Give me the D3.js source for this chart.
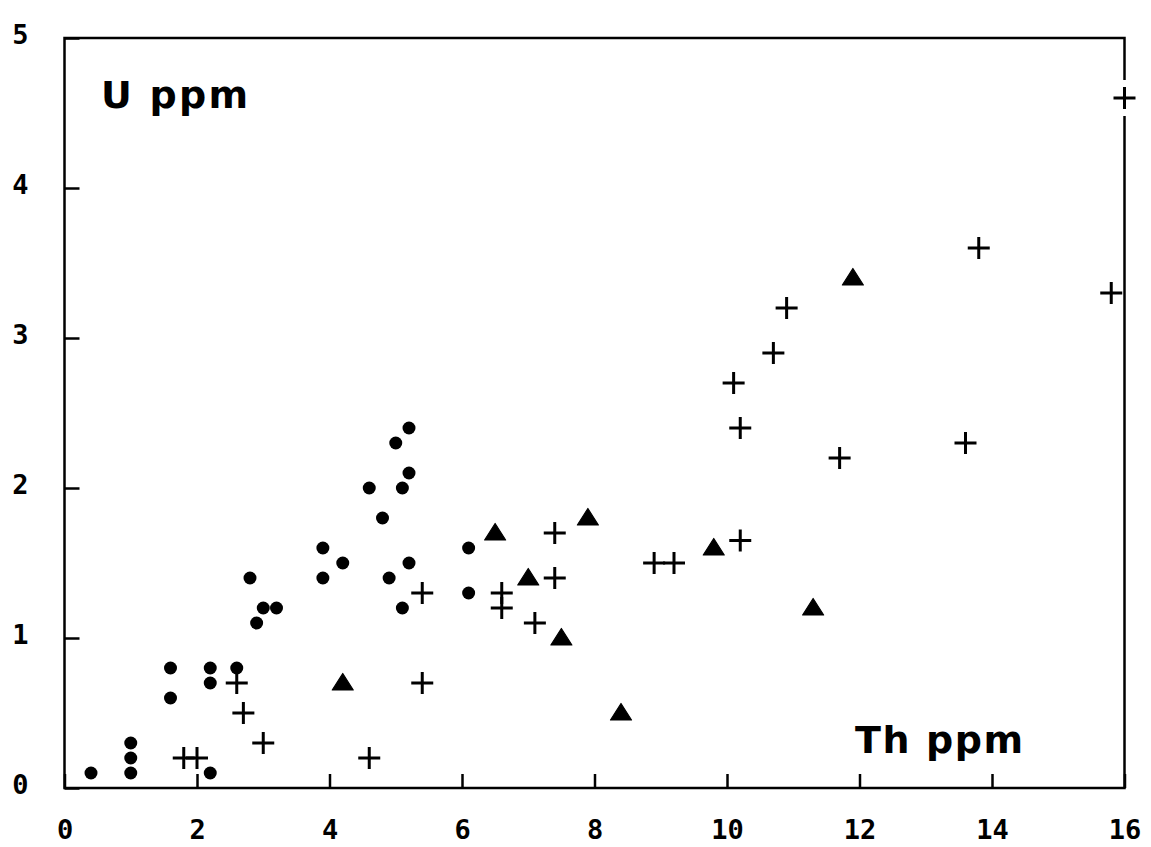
<!DOCTYPE html>
<html>
<head>
<meta charset="utf-8">
<script src="https://cdn.jsdelivr.net/npm/d3@7"></script>
<style>
  html, body { margin: 0; padding: 0; background: #fff; }
  svg { display: block; }
</style>
</head>
<body>
<script>
// Th (ppm) vs U (ppm) for three sample groups
const dotTh = [0.4, 1.0, 1.0, 1.0, 1.6, 1.6, 2.2, 2.2, 2.2, 2.6, 2.8, 2.9, 3.0, 3.2, 3.9, 3.9, 4.2, 4.6, 4.8, 4.9, 5.0, 5.1, 5.1, 5.2, 5.2, 5.2, 6.1, 6.1];
const dotU  = [0.1, 0.3, 0.2, 0.1, 0.8, 0.6, 0.8, 0.7, 0.1, 0.8, 1.4, 1.1, 1.2, 1.2, 1.6, 1.4, 1.5, 2.0, 1.8, 1.4, 2.3, 2.0, 1.2, 2.4, 2.1, 1.5, 1.6, 1.3];

const triTh = [4.2, 6.5, 7.0, 7.5, 7.9, 8.4, 9.8, 11.3, 11.9];
const triU  = [0.7, 1.7, 1.4, 1.0, 1.8, 0.5, 1.6, 1.2, 3.4];

const plusTh = [1.8, 2.0, 2.6, 2.7, 3.0, 4.6, 5.4, 5.4, 6.6, 6.6, 7.1, 7.4, 7.4, 8.9, 9.2, 10.1, 10.2, 10.2, 10.7, 10.9, 11.7, 13.6, 13.8, 15.8, 16.0];
const plusU  = [0.2, 0.2, 0.7, 0.5, 0.3, 0.2, 0.7, 1.3, 1.3, 1.2, 1.1, 1.7, 1.4, 1.5, 1.5, 2.7, 2.4, 1.65, 2.9, 3.2, 2.2, 2.3, 3.6, 3.3, 4.6];

const xTicks = [0, 2, 4, 6, 8, 10, 12, 14, 16];
const yTicks = [0, 1, 2, 3, 4, 5];
const xLabel = "Th ppm";
const yLabel = "U ppm";

const W = 1151, H = 847;
const svg = d3.select("body").append("svg").attr("width", W).attr("height", H);

const x = d3.scaleLinear().domain([0, 16]).range([64.5, 1124.5]);
const y = d3.scaleLinear().domain([0, 5]).range([788, 38]);

const pairs = (a, b) => a.map((v, i) => ({ th: v, u: b[i] }));

// Frame
svg.append("rect")
  .attr("x", x(0)).attr("y", y(5))
  .attr("width", x(16) - x(0)).attr("height", y(0) - y(5))
  .attr("fill", "none").attr("stroke", "#000").attr("stroke-width", 2.5);

const tickFont = "'DejaVu Sans Mono', monospace";

// Bottom axis: inward ticks, labels below
const gx = svg.append("g").attr("transform", `translate(0,${y(0)})`)
  .call(d3.axisBottom(x).tickValues(xTicks).tickSize(-14).tickFormat(d3.format("d")));
gx.select(".domain").remove();
gx.selectAll(".tick line").attr("stroke", "#000").attr("stroke-width", 2.5);
gx.selectAll(".tick text").attr("fill", "#000").attr("y", 51).attr("dy", 0)
  .style("font-family", tickFont).style("font-weight", "bold").style("font-size", "27px");

// Left axis: inward ticks, labels to the left
const gy = svg.append("g").attr("transform", `translate(${x(0)},0)`)
  .call(d3.axisLeft(y).tickValues(yTicks).tickSize(-15).tickPadding(36).tickFormat(d3.format("d")));
gy.select(".domain").remove();
gy.selectAll(".tick line").attr("stroke", "#000").attr("stroke-width", 2.5);
gy.selectAll(".tick text").attr("fill", "#000").attr("dy", "0.2em")
  .style("font-family", tickFont).style("font-weight", "bold").style("font-size", "27px");

// Axis titles inside the frame
const titleFont = "'DejaVu Sans', sans-serif";
svg.append("text").attr("x", 101).attr("y", 108)
  .attr("textLength", 147).attr("lengthAdjust", "spacing")
  .style("font-family", titleFont).style("font-weight", "bold").style("font-size", "38px")
  .text(yLabel);
svg.append("text").attr("x", 855).attr("y", 753)
  .attr("textLength", 168).attr("lengthAdjust", "spacing")
  .style("font-family", titleFont).style("font-weight", "bold").style("font-size", "38px")
  .text(xLabel);

// Filled circles
svg.append("g").selectAll("circle").data(pairs(dotTh, dotU)).join("circle")
  .attr("cx", d => x(d.th)).attr("cy", d => y(d.u)).attr("r", 6.5).attr("fill", "#000");

// Filled triangles
svg.append("g").selectAll("path").data(pairs(triTh, triU)).join("path")
  .attr("transform", d => `translate(${x(d.th)},${y(d.u)})`)
  .attr("d", "M0,-9.5L10.5,7L-10.5,7Z")
  .attr("fill", "#000").attr("stroke", "#000").attr("stroke-width", 1.2).attr("stroke-linejoin", "round");

// Crosses; where one sits on the frame line, the line is broken around it
const plusData = pairs(plusTh, plusU);
svg.append("g").selectAll("rect").data(plusData.filter(d => Math.abs(x(d.th) - x(16)) < 4)).join("rect")
  .attr("x", d => x(d.th) - 5).attr("y", d => y(d.u) - 18)
  .attr("width", 10).attr("height", 36).attr("fill", "#fff");
svg.append("g").selectAll("path").data(plusData).join("path")
  .attr("transform", d => `translate(${x(d.th)},${y(d.u)})`)
  .attr("d", "M-11,0H11M0,-11V11")
  .attr("stroke", "#000").attr("stroke-width", 3).attr("fill", "none");
</script>
</body>
</html>
